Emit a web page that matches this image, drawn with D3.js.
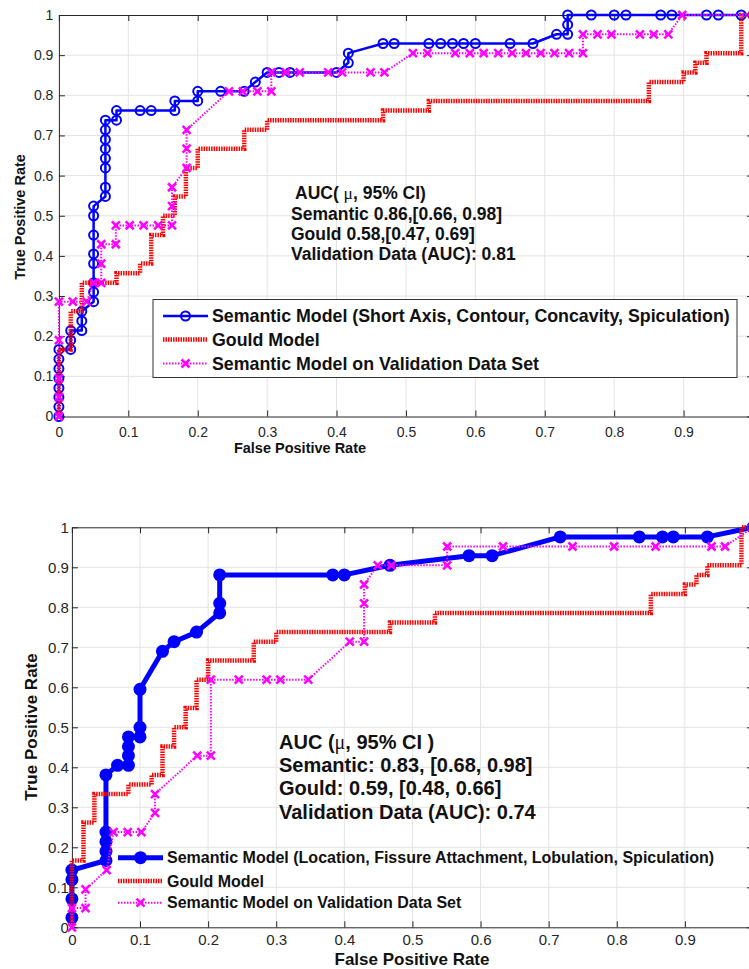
<!DOCTYPE html>
<html>
<head>
<meta charset="utf-8">
<script src="https://cdn.jsdelivr.net/npm/d3@7"></script>
<style>
  body { margin: 0; background: #fff; }
  svg { display: block; font-family: "Liberation Sans", Arial, sans-serif; }
</style>
</head>
<body>
<div id="main"></div>
<script>
//tick values (both panels); the x label at 1 falls outside the cropped picture
const ticks = [0, 0.1, 0.2, 0.3, 0.4, 0.5, 0.6, 0.7, 0.8, 0.9, 1];
const tickLabels = ['0', '0.1', '0.2', '0.3', '0.4', '0.5', '0.6', '0.7', '0.8', '0.9', '1'];

//legend + annotation texts
const topLegend = ['Semantic Model (Short Axis, Contour, Concavity, Spiculation)', 'Gould Model', 'Semantic Model on Validation Data Set'];
const bottomLegend = ['Semantic Model (Location, Fissure Attachment, Lobulation, Spiculation)', 'Gould Model', 'Semantic Model on Validation Data Set'];
const topNotes = ['AUC( μ, 95% CI)', 'Semantic 0.86,[0.66, 0.98]', 'Gould 0.58,[0.47, 0.69]', 'Validation Data (AUC): 0.81'];
const bottomNotes = ['AUC (μ, 95% CI )', 'Semantic: 0.83, [0.68, 0.98]', 'Gould: 0.59, [0.48, 0.66]', 'Validation Data (AUC): 0.74'];

//series as [false positive rate, true positive rate]
const topSemantic = [[0,0],[0,0.024],[0,0.048],[0,0.071],[0,0.095],[0,0.119],[0,0.143],[0,0.167],
  [0.017,0.167],[0.017,0.19],[0.017,0.214],[0.033,0.214],[0.033,0.238],[0.033,0.262],
  [0.05,0.286],[0.05,0.31],[0.05,0.333],[0.05,0.381],[0.05,0.405],[0.05,0.452],[0.05,0.5],[0.05,0.524],
  [0.067,0.548],[0.067,0.571],[0.067,0.619],[0.067,0.643],[0.067,0.667],[0.067,0.69],[0.067,0.714],[0.067,0.738],
  [0.083,0.738],[0.083,0.762],[0.117,0.762],[0.133,0.762],[0.167,0.762],[0.167,0.786],[0.2,0.786],[0.2,0.81],
  [0.233,0.81],[0.267,0.81],[0.283,0.833],[0.3,0.857],[0.317,0.857],[0.333,0.857],[0.4,0.857],
  [0.417,0.881],[0.417,0.905],[0.467,0.929],[0.483,0.929],[0.533,0.929],[0.55,0.929],[0.567,0.929],[0.583,0.929],
  [0.6,0.929],[0.65,0.929],[0.683,0.929],[0.717,0.952],[0.733,0.952],[0.733,0.976],[0.733,1],
  [0.767,1],[0.8,1],[0.817,1],[0.867,1],[0.883,1],[0.933,1],[0.95,1],[0.983,1],[1,1]];

const gould = [[0,0],[0,0.167],[0.017,0.167],[0.017,0.262],[0.033,0.262],[0.033,0.333],[0.083,0.333],[0.083,0.357],
  [0.117,0.357],[0.117,0.381],[0.133,0.381],[0.133,0.452],[0.15,0.452],[0.15,0.5],[0.167,0.5],[0.167,0.548],
  [0.183,0.548],[0.183,0.619],[0.2,0.619],[0.2,0.667],[0.267,0.667],[0.267,0.714],[0.3,0.714],[0.3,0.738],
  [0.467,0.738],[0.467,0.762],[0.533,0.762],[0.533,0.786],[0.85,0.786],[0.85,0.833],[0.9,0.833],[0.9,0.857],
  [0.917,0.857],[0.917,0.881],[0.933,0.881],[0.933,0.905],[0.983,0.905],[0.983,1],[1,1]];

const topValidation = [[0,0],[0,0.048],[0,0.095],[0,0.19],[0,0.286],[0.02,0.286],[0.04,0.286],[0.05,0.333],
  [0.061,0.333],[0.061,0.381],[0.061,0.429],[0.082,0.429],[0.082,0.476],[0.102,0.476],[0.122,0.476],[0.143,0.476],
  [0.163,0.476],[0.163,0.524],[0.163,0.571],[0.184,0.619],[0.184,0.667],[0.184,0.714],[0.245,0.81],[0.265,0.81],
  [0.286,0.81],[0.306,0.81],[0.306,0.857],[0.327,0.857],[0.347,0.857],[0.388,0.857],[0.408,0.857],[0.449,0.857],
  [0.469,0.857],[0.51,0.905],[0.531,0.905],[0.571,0.905],[0.592,0.905],[0.612,0.905],[0.633,0.905],[0.653,0.905],
  [0.673,0.905],[0.694,0.905],[0.714,0.905],[0.735,0.905],[0.755,0.905],[0.755,0.952],[0.776,0.952],[0.796,0.952],
  [0.837,0.952],[0.857,0.952],[0.878,0.952],[0.898,1],[1,1]];

const bottomSemantic = [[0,0.024],[0,0.071],[0,0.119],[0,0.143],[0.05,0.167],[0.05,0.19],[0.05,0.214],[0.05,0.238],
  [0.05,0.381],[0.067,0.405],[0.083,0.405],[0.083,0.429],[0.083,0.452],[0.083,0.476],[0.1,0.476],[0.1,0.5],[0.1,0.595],
  [0.133,0.69],[0.15,0.714],[0.183,0.738],[0.217,0.786],[0.217,0.81],[0.217,0.881],[0.383,0.881],[0.4,0.881],
  [0.467,0.905],[0.583,0.929],[0.617,0.929],[0.717,0.976],[0.833,0.976],[0.867,0.976],[0.883,0.976],[0.933,0.976],[1,1]];

const bottomValidation = [[0,0],[0,0.048],[0.02,0.048],[0.02,0.095],[0.051,0.143],[0.061,0.238],[0.082,0.238],
  [0.102,0.238],[0.122,0.286],[0.122,0.333],[0.184,0.429],[0.204,0.429],[0.204,0.619],[0.245,0.619],[0.286,0.619],
  [0.306,0.619],[0.347,0.619],[0.408,0.714],[0.429,0.714],[0.429,0.81],[0.429,0.857],[0.449,0.905],[0.469,0.905],
  [0.551,0.905],[0.551,0.952],[0.633,0.952],[0.735,0.952],[0.796,0.952],[0.857,0.952],[0.939,0.952],[0.959,0.952],[1,1]];

const BLUE = '#0000ff', RED = '#ff0000', PINK = '#ff00ff', AXIS = '#262626';

const svg = d3.select('#main')
  .append('svg')
  .attr('width', 749)
  .attr('height', 969);

function xMark(sel, s) {
  sel.attr('d', `M${-s},${-s}L${s},${s}M${-s},${s}L${s},${-s}`);
}

function drawPanel(p) {
  const x = d3.scaleLinear().domain([0, 1]).range([p.left, p.right]);
  const y = d3.scaleLinear().domain([0, 1]).range([p.bottom, p.top]);
  const g = svg.append('g');

  //grid
  g.selectAll('.gx').data(ticks.slice(1, -1)).enter().append('line')
    .attr('x1', d => x(d)).attr('x2', d => x(d))
    .attr('y1', p.top).attr('y2', p.bottom)
    .attr('stroke', '#e3e3e3').attr('stroke-width', 1);
  g.selectAll('.gy').data(ticks.slice(1, -1)).enter().append('line')
    .attr('y1', d => y(d)).attr('y2', d => y(d))
    .attr('x1', p.left).attr('x2', p.right)
    .attr('stroke', '#e3e3e3').attr('stroke-width', 1);

  //axes (ticks inward on all four sides)
  const fmtY = (d, i) => tickLabels[i];
  const fmtX = (d, i) => (i === ticks.length - 1 ? '' : tickLabels[i]);
  const styleAxis = (a, fs) => {
    a.select('.domain').attr('stroke', AXIS);
    a.selectAll('.tick line').attr('stroke', AXIS);
    a.selectAll('text').attr('fill', AXIS).style('font-size', fs + 'px')
      .style('font-family', '"Liberation Sans", Arial, sans-serif');
  };
  styleAxis(g.append('g').attr('transform', `translate(0,${p.bottom})`)
    .call(d3.axisBottom(x).tickValues(ticks).tickFormat(fmtX).tickSize(-6).tickSizeOuter(0).tickPadding(p.xPad)), p.tickFont);
  styleAxis(g.append('g').attr('transform', `translate(${p.left},0)`)
    .call(d3.axisLeft(y).tickValues(ticks).tickFormat(fmtY).tickSize(-6).tickSizeOuter(0).tickPadding(p.yPad)), p.tickFont);
  styleAxis(g.append('g').attr('transform', `translate(0,${p.top})`)
    .call(d3.axisTop(x).tickValues(ticks).tickFormat('').tickSize(-6).tickSizeOuter(0)), p.tickFont);
  styleAxis(g.append('g').attr('transform', `translate(${p.right},0)`)
    .call(d3.axisRight(y).tickValues(ticks).tickFormat('').tickSize(-6).tickSizeOuter(0)), p.tickFont);

  //axis titles
  g.append('text')
    .attr('x', p.xLabelX).attr('y', p.xLabelY)
    .attr('text-anchor', 'middle').attr('font-weight', 'bold').attr('font-size', p.labelFont)
    .attr('fill', '#111').text('False Positive Rate');
  g.append('text')
    .attr('transform', `translate(${p.yLabelX},${p.yLabelY}) rotate(-90)`)
    .attr('text-anchor', 'middle').attr('font-weight', 'bold').attr('font-size', p.labelFont)
    .attr('fill', '#111').text('True Positive Rate');

  const line = d3.line().x(d => x(d[0])).y(d => y(d[1]));

  //semantic model
  g.append('path').datum(p.semantic).attr('d', line)
    .attr('fill', 'none').attr('stroke', BLUE).attr('stroke-width', p.blueWidth).attr('stroke-linejoin', 'round');
  g.selectAll('.sem').data(p.semantic).enter().append('circle')
    .attr('cx', d => x(d[0])).attr('cy', d => y(d[1])).attr('r', p.blueR)
    .attr('fill', p.blueFill ? BLUE : 'none').attr('stroke', BLUE).attr('stroke-width', p.blueFill ? 0 : 2);

  //gould
  g.append('path').datum(gould).attr('d', line)
    .attr('fill', 'none').attr('stroke', RED).attr('stroke-width', 4.5).attr('stroke-dasharray', '1.5,1');

  //validation
  g.append('path').datum(p.validation).attr('d', line)
    .attr('fill', 'none').attr('stroke', PINK).attr('stroke-width', 2).attr('stroke-dasharray', '1.5,1.5');
  g.selectAll('.val').data(p.validation).enter().append('path')
    .attr('transform', d => `translate(${x(d[0])},${y(d[1])})`)
    .call(xMark, 4)
    .attr('fill', 'none').attr('stroke', PINK).attr('stroke-width', 2.5);

  //annotation
  const notes = g.append('g').attr('font-weight', 'bold').attr('font-size', p.noteFont).attr('fill', '#111');
  p.notes.forEach((t, i) => {
    const tx = notes.append('text').attr('x', p.noteX[i]).attr('y', p.noteY[i]);
    const parts = t.split('μ');
    if (parts.length > 1) {
      tx.append('tspan').text(parts[0]);
      tx.append('tspan').attr('font-family', '"Liberation Serif", serif').attr('font-weight', 'normal').text('μ');
      tx.append('tspan').text(parts[1]);
    } else {
      tx.text(t);
    }
  });

  //legend
  const lg = g.append('g');
  if (p.legendBox) {
    lg.append('rect')
      .attr('x', p.legendBox[0]).attr('y', p.legendBox[1])
      .attr('width', p.legendBox[2]).attr('height', p.legendBox[3])
      .attr('fill', '#fff').attr('stroke', '#333').attr('stroke-width', 1);
  }
  const styles = [
    {stroke: BLUE, w: p.blueWidth, dash: null},
    {stroke: RED, w: 4.5, dash: '1.5,1'},
    {stroke: PINK, w: 2, dash: '1.5,1.5'}
  ];
  p.legend.forEach((t, i) => {
    const ly = p.legendRows[i];
    const s = styles[i];
    lg.append('line')
      .attr('x1', p.legendX[0]).attr('x2', p.legendX[1]).attr('y1', ly).attr('y2', ly)
      .attr('stroke', s.stroke).attr('stroke-width', s.w).attr('stroke-dasharray', s.dash);
    const mx = (p.legendX[0] + p.legendX[1]) / 2;
    if (i === 0) {
      lg.append('circle').attr('cx', mx).attr('cy', ly).attr('r', p.blueR)
        .attr('fill', p.blueFill ? BLUE : 'none').attr('stroke', BLUE).attr('stroke-width', p.blueFill ? 0 : 2);
    } else if (i === 2) {
      lg.append('path').attr('transform', `translate(${mx},${ly})`).call(xMark, 4)
        .attr('fill', 'none').attr('stroke', PINK).attr('stroke-width', 2.5);
    }
    lg.append('text')
      .attr('x', p.legendX[1] + 4).attr('y', ly).attr('dy', '0.36em')
      .attr('font-weight', 'bold').attr('font-size', p.legendFont).attr('fill', '#111')
      .text(t);
  });
}

drawPanel({
  left: 58.9, right: 753, top: 15, bottom: 416.5,
  tickFont: 14, xPad: 10.5, yPad: 5.5, labelFont: 14.5,
  xLabelX: 300, xLabelY: 453, yLabelX: 25, yLabelY: 217,
  semantic: topSemantic, validation: topValidation,
  blueWidth: 2.5, blueR: 4.5, blueFill: false,
  notes: topNotes, noteFont: 17.5, noteX: [295, 291, 291, 291], noteY: [199, 220, 240, 260],
  legend: topLegend, legendFont: 17.8, legendBox: [153, 299.5, 584, 78],
  legendRows: [316, 339.5, 363.5], legendX: [163, 208]
});

drawPanel({
  left: 71.9, right: 753, top: 527.3, bottom: 927.3,
  tickFont: 15, xPad: 7, yPad: 3, labelFont: 17,
  xLabelX: 412, xLabelY: 965, yLabelX: 36.5, yLabelY: 727,
  semantic: bottomSemantic, validation: bottomValidation,
  blueWidth: 5, blueR: 6.5, blueFill: true,
  notes: bottomNotes, noteFont: 20, noteX: [279, 279, 279, 279], noteY: [748.5, 772, 795, 818.5],
  legend: bottomLegend, legendFont: 16, legendBox: null,
  legendRows: [857.7, 881, 902.7], legendX: [118, 163]
});
</script>
</body>
</html>
